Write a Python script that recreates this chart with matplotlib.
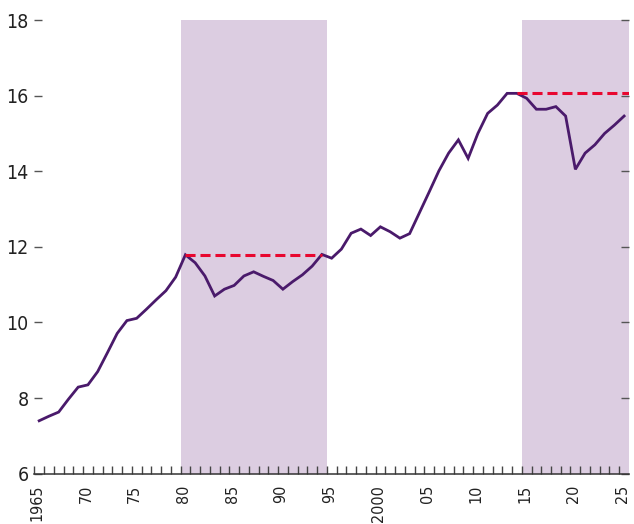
import matplotlib
matplotlib.use("Agg")
import matplotlib.pyplot as plt
import matplotlib.transforms as mtransforms
from matplotlib import font_manager
import numpy as np

# annual values, 1965-2025
years = np.arange(1965, 2026)
values = [7.40, 7.52, 7.63, 7.97, 8.29, 8.35, 8.70, 9.20, 9.71, 10.05,
          10.11, 10.35, 10.60, 10.84, 11.20, 11.79, 11.58, 11.23, 10.70, 10.88,
          10.98, 11.23, 11.34, 11.22, 11.11, 10.88, 11.08, 11.26, 11.49, 11.80,
          11.70, 11.94, 12.36, 12.47, 12.30, 12.53, 12.40, 12.23, 12.35, 12.90,
          13.45, 14.01, 14.48, 14.83, 14.34, 15.00, 15.53, 15.75, 16.06, 16.06,
          15.93, 15.64, 15.64, 15.71, 15.46, 14.05, 14.48, 14.70, 15.00, 15.22,
          15.46]

# shaded periods and previous-peak reference lines (peak year, end)
shade_periods = [(1980, 1995), (2015, 2026)]
peak_lines = [(1980, 1994.5), (2014, 2026)]

xtick_years = list(range(1965, 2026, 5))
xtick_labels = ["1965", "70", "75", "80", "85", "90", "95", "2000", "05", "10", "15", "20", "25"]
ytick_values = [6, 8, 10, 12, 14, 16, 18]

# the original uses a narrow face; use one if the system has it
narrow = [f for f in font_manager.fontManager.ttflist
          if ("Narrow" in f.name or "Condensed" in f.name
              or f.stretch in ("condensed", "semi-condensed", 500, 600))
          and f.style == "normal" and f.weight in (400, "normal", "regular")]
if narrow:
    font_props = dict(family=narrow[0].name, stretch=narrow[0].stretch, xsize=11.5, ysize=14)
else:
    font_props = dict(family="Roboto", xsize=11, ysize=13)

plt.rcParams['font.family'] = [font_props["family"], 'DejaVu Sans']
plt.rcParams['font.stretch'] = font_props.get("stretch", "normal")

fig = plt.figure(figsize=(6.34, 5.24), dpi=100)
ax = fig.add_axes([0.0541, 0.096, 0.938, 0.8658])

for start, end in shade_periods:
    ax.axvspan(start, end, color="#dccde1", lw=0, zorder=0)

x = years + 0.5
ax.plot(x, values, color="#4a1a6b", lw=2.0, solid_joinstyle="miter", zorder=3)

for peak_year, end in peak_lines:
    level = values[list(years).index(peak_year)]
    ax.plot([peak_year + 0.5, end], [level, level], color="#e8072f", lw=2.2,
            linestyle=(0, (3.3, 1.6)), zorder=4)

ax.set_xlim(1965, 2026)
ax.set_ylim(6, 18)

ax.set_xticks(xtick_years)
ax.set_xticklabels(xtick_labels, rotation=90, va="top", ha="center")
ax.set_xticks(np.arange(1965, 2026), minor=True)
ax.set_yticks(ytick_values)

for s in ["left", "right", "top"]:
    ax.spines[s].set_visible(False)
ax.spines["bottom"].set_color("#333333")
ax.spines["bottom"].set_linewidth(1.1)

ax.tick_params(axis="x", which="both", direction="in", length=6, width=1.0,
               color="#444444", pad=8, labelsize=font_props["xsize"], labelcolor="#222222")
ax.tick_params(axis="y", which="major", direction="in", left=True, right=True,
               length=6, width=1.0, color="#555555", pad=4,
               labelsize=font_props["ysize"], labelcolor="#222222")

# nudge the rotated year labels slightly right like the original
offset = mtransforms.ScaledTranslation(3 / 100, 0, fig.dpi_scale_trans)
for lbl in ax.get_xticklabels():
    lbl.set_transform(lbl.get_transform() + offset)

fig.savefig("out.png", dpi=100)
